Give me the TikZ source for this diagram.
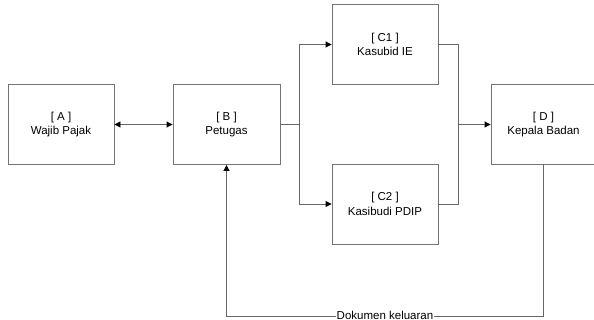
\documentclass[tikz,border=0pt]{standalone}
\usepackage{fontspec}
\setmainfont{Liberation Sans}
\usetikzlibrary{arrows.meta}

\begin{document}
\begin{tikzpicture}[x=1pt, y=-1pt, >={Triangle[length=6pt,width=6pt,color=black]},
  box/.style={draw=black!55, line width=0.9pt, minimum width=106pt, minimum height=80pt, align=center, font=\fontsize{11.5}{14.5}\selectfont},
  line/.style={draw=black!60, line width=0.9pt},
  lbl/.style={fill=white, inner sep=1pt, font=\fontsize{11.5}{14}\selectfont}]

\useasboundingbox (0,0) rectangle (594,320);
\clip (0,0) rectangle (594,320);

% boxes
\node[box] (A) at (61,124.5) {[ A ]\\Wajib Pajak};
\node[box, minimum width=107pt] (B) at (226.5,124.5) {[ B ]\\Petugas};
\node[box] (C1) at (385,44.5) {[ C1 ]\\Kasubid IE};
\node[box] (C2) at (385,204) {[ C2 ]\\Kasibudi PDIP};
\node[box, minimum width=105pt] (D) at (543.5,124.5) {[ D ]\\Kepala Badan};

% junctions
\coordinate (split) at (299,124.5);
\coordinate (merge) at (458,124.5);
\coordinate (bottom) at (543.5,316);

\draw[line, <->] (A) -- (B);

\draw[line] (B.east) -- (split);
\draw[line, ->] (split) |- (C1.west);
\draw[line, ->] (split) |- (C2.west);

\draw[line] (C1.east) -| (merge);
\draw[line] (C2.east) -| (merge);
\draw[line, ->] (merge) -- (D.west);

% feedback
\draw[line, ->] (D.south) -- (bottom) -| (B.south);
\node[lbl] (out) at (385,315) {Dokumen keluaran};

\end{tikzpicture}
\end{document}
